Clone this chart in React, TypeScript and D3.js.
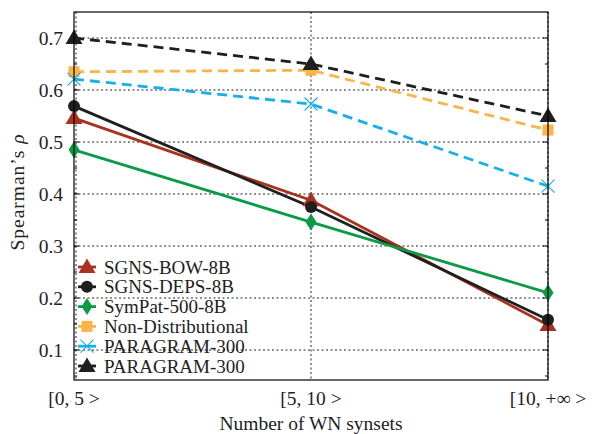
import React from "react";
import * as d3 from "d3";

const categories = ["[0, 5 >", "[5, 10 >", "[10, +\u221E >"];
const yTicks = [0.1, 0.2, 0.3, 0.4, 0.5, 0.6, 0.7];
const yMinorTicks = [0.05, 0.15, 0.25, 0.35, 0.45, 0.55, 0.65, 0.75];

const seriesNames = ["SGNS-BOW-8B", "SGNS-DEPS-8B", "SymPat-500-8B", "Non-Distributional", "PARAGRAM-300", "PARAGRAM-300"];
const sgnsBow = [0.546, 0.388, 0.148];
const sgnsDeps = [0.569, 0.375, 0.158];
const symPat = [0.485, 0.346, 0.21];
const nonDist = [0.635, 0.638, 0.523];
const paragramBlue = [0.621, 0.573, 0.415];
const paragramBlack = [0.70, 0.65, 0.55];

const seriesValues = [sgnsBow, sgnsDeps, symPat, nonDist, paragramBlue, paragramBlack];
const seriesColors = ["#a8321f", "#1f1f1f", "#0a9a48", "#fdb446", "#18aee8", "#1f1f1f"];
const seriesDashed = [false, false, false, true, true, true];
const seriesMarkers = ["triangle", "circle", "diamond", "square", "cross", "triangle"];

const W = 597, H = 434;
const L = 74, R = 548, T = 12, B = 380;
const FONT = "Liberation Serif";

function Marker({ kind, x, y, color }: { kind: string; x: number; y: number; color: string }) {
  if (kind === "triangle") {
    const s = 8.5;
    return <path d={`M${x},${y - s}L${x + s},${y + s * 0.7}L${x - s},${y + s * 0.7}Z`} fill={color} />;
  }
  if (kind === "circle") return <circle cx={x} cy={y} r={6} fill={color} />;
  if (kind === "diamond") {
    return <path d={`M${x},${y - 8.5}L${x + 5.5},${y}L${x},${y + 8.5}L${x - 5.5},${y}Z`} fill={color} />;
  }
  if (kind === "square") return <rect x={x - 5.5} y={y - 5.5} width={11} height={11} fill={color} />;
  if (kind === "cross") {
    const s = 6.5;
    return (
      <path d={`M${x - s},${y - s}L${x + s},${y + s}M${x - s},${y + s}L${x + s},${y - s}`} stroke={color} strokeWidth={1.2} fill="none" />
    );
  }
  return null;
}

export default function App() {
  const x = d3.scalePoint<number>().domain([0, 1, 2]).range([L, R]);
  const y = d3.scaleLinear().domain([0.1, 0.7]).range([350, 38]);
  const line = d3
    .line<number>()
    .x((_, i) => x(i) as number)
    .y((d) => y(d));

  const legendY0 = 267;
  const legendDy = 19.8;

  return (
    <svg width={W} height={H} style={{ position: "absolute", left: 0, top: 0 }}>
      <rect x={0} y={0} width={W} height={H} fill="#fff" />
      {yTicks.map((t) => (
        <line key={"gy" + t} x1={L} x2={R} y1={y(t)} y2={y(t)} stroke="#222" strokeWidth={1} strokeDasharray="2,2.5" />
      ))}
      {[0, 1, 2].map((i) => (
        <line key={"gx" + i} x1={(x(i) as number) + (i === 0 ? 2 : 0)} x2={(x(i) as number) + (i === 0 ? 2 : 0)} y1={T} y2={B} stroke="#222" strokeWidth={1} strokeDasharray="2,2.5" />
      ))}
      {yTicks.map((t) => (
        <g key={"t" + t}>
          <line x1={L} x2={L + 5} y1={y(t)} y2={y(t)} stroke="#000" strokeWidth={1} />
          <line x1={R - 5} x2={R} y1={y(t)} y2={y(t)} stroke="#000" strokeWidth={1} />
          <text x={L - 11} y={y(t)} textAnchor="end" dominantBaseline="central" fontFamily={FONT} fontSize={19.5} fill="#222">
            {t.toFixed(1)}
          </text>
        </g>
      ))}
      {yMinorTicks.filter((t) => y(t) > T && y(t) < B).map((t) => (
        <g key={"m" + t}>
          <line x1={L} x2={L + 3} y1={y(t)} y2={y(t)} stroke="#000" strokeWidth={1} />
          <line x1={R - 3} x2={R} y1={y(t)} y2={y(t)} stroke="#000" strokeWidth={1} />
        </g>
      ))}
      {categories.map((c, i) => (
        <text key={c} x={x(i) as number} y={398} textAnchor="middle" dominantBaseline="central" fontFamily={FONT} fontSize={19.5} fill="#222">
          {c}
        </text>
      ))}
      {seriesValues.map((vals, si) => (
        <path
          key={"l" + si}
          d={line(vals) || ""}
          fill="none"
          stroke={seriesColors[si]}
          strokeWidth={2.8}
          strokeDasharray={seriesDashed[si] ? "10,6" : undefined}
        />
      ))}
      {seriesValues.map((vals, si) => (
        <g key={"mk" + si}>
          {vals.map((v, i) => (
            <Marker key={i} kind={seriesMarkers[si]} x={x(i) as number} y={y(v)} color={seriesColors[si]} />
          ))}
        </g>
      ))}
      <rect x={L} y={T} width={R - L} height={B - T} fill="none" stroke="#000" strokeWidth={1.2} />
      {seriesNames.map((name, si) => {
        const ly = legendY0 + si * legendDy;
        return (
          <g key={"lg" + si}>
            <line x1={78} x2={96} y1={ly} y2={ly} stroke={seriesColors[si]} strokeWidth={2.8} />
            <Marker kind={seriesMarkers[si]} x={87} y={ly} color={seriesColors[si]} />
            <text x={104} y={ly} dominantBaseline="central" fontFamily={FONT} fontSize={19} fill="#222">
              {name}
            </text>
          </g>
        );
      })}
      <text x={311} y={423} textAnchor="middle" dominantBaseline="central" fontFamily={FONT} fontSize={19.5} fill="#222">
        Number of WN synsets
      </text>
      <text
        transform={`translate(17,192) rotate(-90)`}
        textAnchor="middle"
        dominantBaseline="central"
        fontFamily={FONT}
        fontSize={19.5}
        letterSpacing={1}
        fill="#222"
      >
        {"Spearman\u2019s "}
        <tspan fontStyle="italic">{"\u03C1"}</tspan>
      </text>
    </svg>
  );
}
